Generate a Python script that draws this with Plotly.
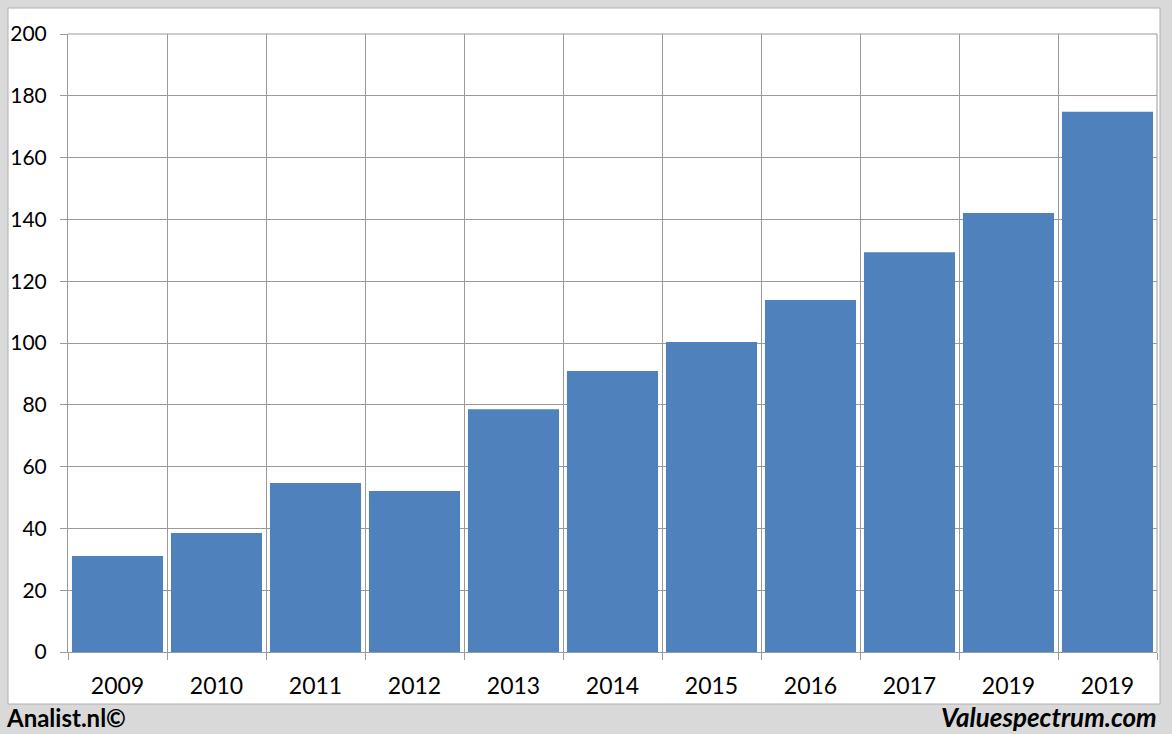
import plotly.graph_objects as go

years = ["2009", "2010", "2011", "2012", "2013", "2014", "2015", "2016", "2017", "2019", "2019"]
values = [31.1, 38.5, 54.7, 52.1, 78.6, 90.9, 100.3, 113.9, 129.4, 142.1, 174.8]
y_ticks = [0, 20, 40, 60, 80, 100, 120, 140, 160, 180, 200]

W, H = 1172, 734
L, R, T, B = 68, 1157, 34, 652

def px(x):
    return (x - L) / (R - L)

def py(y):
    return (B - y) / (B - T)

idx = list(range(len(years)))
fig = go.Figure()
fig.add_trace(go.Bar(x=idx, y=values, marker=dict(color="#4F81BD", line=dict(width=0)),
                     width=0.92, hoverinfo="skip"))

font = "Lato, 'Open Sans', sans-serif"
fig.update_layout(
    width=W, height=H, autosize=False,
    margin=dict(l=L, r=W - R, t=T, b=H - B, autoexpand=False),
    paper_bgcolor="#d9d9d9", plot_bgcolor="white",
    showlegend=False,
    font=dict(family=font, size=20, color="black"),
    xaxis=dict(
        range=[-0.5, len(years) - 0.5], automargin=False,
        tickvals=idx, ticktext=years, ticks="", showgrid=False, zeroline=False,
        showline=True, linecolor="#9a9a9a", linewidth=1,
        tickfont=dict(family=font, size=23, color="black"),
        ticklabelstandoff=13,
        minor=dict(tickvals=[i - 0.5 for i in range(len(years) + 1)], showgrid=True,
                   gridcolor="#9a9a9a", gridwidth=1, ticks="outside", ticklen=7,
                   tickcolor="#9a9a9a"),
    ),
    yaxis=dict(
        range=[0, 200], tickvals=y_ticks, ticks="outside", ticklen=7, tickcolor="#9a9a9a",
        showgrid=True, gridcolor="#9a9a9a", gridwidth=1, zeroline=False, automargin=False,
        showline=True, linecolor="#9a9a9a", linewidth=1,
        tickfont=dict(family=font, size=21, color="black"),
        ticklabelstandoff=9,
    ),
    shapes=[
        dict(type="rect", xref="paper", yref="paper", x0=px(8), x1=px(1160), y0=py(704), y1=py(8),
             fillcolor="white", line=dict(color="#b0b0b0", width=1), layer="below"),
        dict(type="line", xref="paper", yref="paper", x0=1, x1=1, y0=0, y1=1,
             line=dict(color="#9a9a9a", width=1)),
        dict(type="line", xref="paper", yref="paper", x0=0, x1=1, y0=1, y1=1,
             line=dict(color="#9a9a9a", width=1)),
    ],
    annotations=[
        dict(text="<b>Analist.nl©</b>", xref="paper", yref="paper", x=px(4), y=py(717),
             xanchor="left", yanchor="middle", showarrow=False,
             font=dict(family=font, size=24, color="black")),
        dict(text="<b><i>Valuespectrum.com</i></b>", xref="paper", yref="paper", x=px(1159), y=py(717),
             xanchor="right", yanchor="middle", showarrow=False,
             font=dict(family=font, size=26, color="black")),
    ],
)

fig.write_html("out.html", config={"displayModeBar": False},
               post_script="document.body.style.margin='0';document.body.style.overflow='hidden';")
